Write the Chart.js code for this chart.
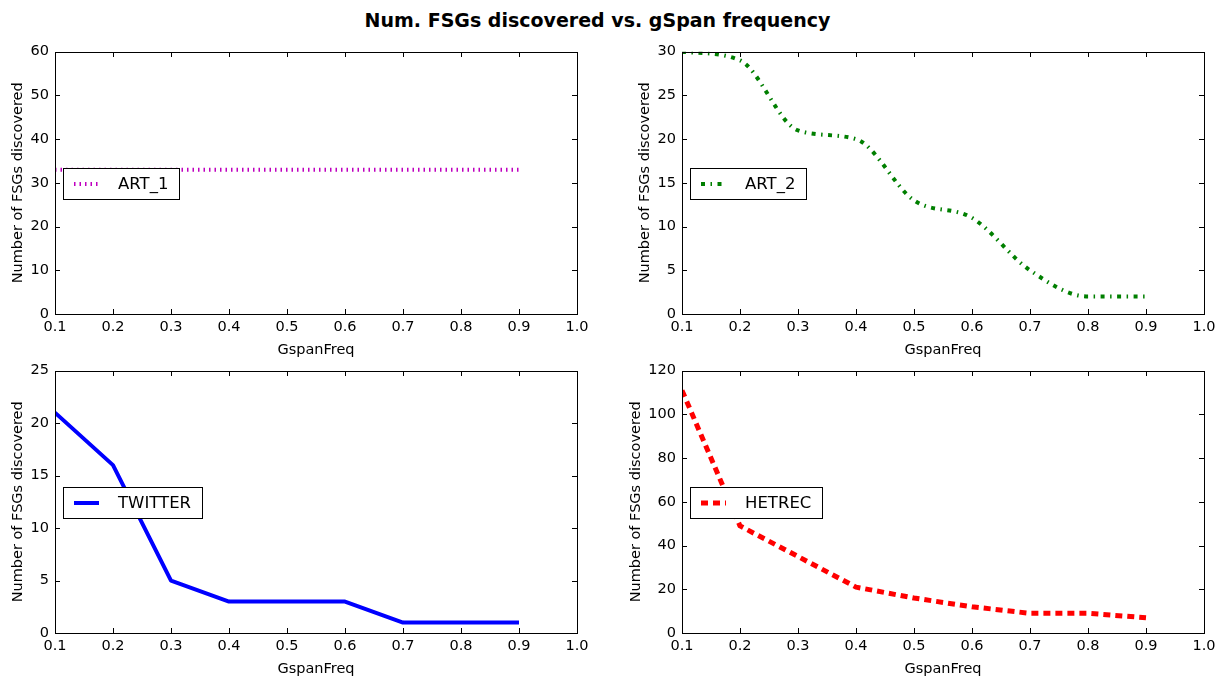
<!DOCTYPE html>
<html><head><meta charset="utf-8">
<script src="https://cdn.jsdelivr.net/npm/chart.js@4.4.1/dist/chart.umd.min.js"></script>
<style>
body{margin:0;background:#fff;width:1226px;height:679px;overflow:hidden;position:relative;font-family:'DejaVu Sans',sans-serif}
#title{position:absolute;top:9px;left:0;width:1195px;text-align:center;font-weight:bold;font-size:19px;color:#000;line-height:22px}
canvas{position:absolute}
</style></head><body>
<div id="title">Num. FSGs discovered vs. gSpan frequency</div>
<canvas id="c1"></canvas><canvas id="c2"></canvas><canvas id="c3"></canvas><canvas id="c4"></canvas>
<script>
const gspanFreq = [0.1, 0.2, 0.3, 0.4, 0.5, 0.6, 0.7, 0.8, 0.9];
const art1 = [33, 33, 33, 33, 33, 33, 33, 33, 33];
const art2 = [30, 29, 21, 20, 13, 11, 5, 2, 2];
const twitter = [21, 16, 5, 3, 3, 3, 1, 1, 1];
const hetrec = [111, 49, 35, 21, 16, 12, 9, 9, 7];
const xTickValues = [0.1, 0.2, 0.3, 0.4, 0.5, 0.6, 0.7, 0.8, 0.9, 1.0];
const xLabel = 'GspanFreq';
const yLabel = 'Number of FSGs discovered';

Chart.defaults.font.family = "'DejaVu Sans', sans-serif";
Chart.defaults.color = '#000';

const mplPlugin = {
  id: 'mpl',
  afterDatasetsDraw(chart, args, opts) {
    const ctx = chart.ctx, a = chart.chartArea;
    const xs = chart.scales.x, ys = chart.scales.y;
    ctx.save();
    ctx.setLineDash([]);
    ctx.strokeStyle = '#000';
    ctx.lineWidth = 1;
    const L = Math.round(a.left), R = Math.round(a.right), T = Math.round(a.top), B = Math.round(a.bottom);
    ctx.strokeRect(L + 0.5, T + 0.5, R - L, B - T);
    const tl = 5;
    ctx.beginPath();
    xs.ticks.forEach(t => {
      const p = Math.round(xs.getPixelForValue(t.value)) + 0.5;
      ctx.moveTo(p, B); ctx.lineTo(p, B - tl);
      ctx.moveTo(p, T); ctx.lineTo(p, T + tl);
    });
    ys.ticks.forEach(t => {
      const p = Math.round(ys.getPixelForValue(t.value)) + 0.5;
      ctx.moveTo(L, p); ctx.lineTo(L + tl, p);
      ctx.moveTo(R, p); ctx.lineTo(R - tl, p);
    });
    ctx.stroke();
    // legend box
    const ds = chart.data.datasets[0];
    ctx.font = '16.5px "DejaVu Sans", sans-serif';
    const tw = ctx.measureText(ds.label).width;
    const bx = L + 8, bh = 31, by = Math.round((T + B) / 2 - 15.5);
    const bw = Math.round(55 + tw + 11);
    ctx.fillStyle = '#fff';
    ctx.fillRect(bx, by, bw, bh);
    ctx.strokeRect(bx + 0.5, by + 0.5, bw, bh);
    const cy = by + bh / 2 + 0.5;
    ctx.beginPath();
    ctx.setLineDash(ds.borderDash || []);
    ctx.lineWidth = ds.borderWidth;
    ctx.strokeStyle = ds.borderColor;
    ctx.lineCap = 'butt';
    ctx.moveTo(bx + 11, cy); ctx.lineTo(bx + 36, cy);
    ctx.stroke();
    ctx.setLineDash([]);
    ctx.fillStyle = '#000';
    ctx.textBaseline = 'middle';
    ctx.textAlign = 'left';
    ctx.fillText(ds.label, bx + 55, cy + 1);
    ctx.restore();
  }
};

function build(id, L, T, values, yMax, yStep, yTitlePad, style) {
  const cv = document.getElementById(id);
  cv.width = 602; cv.height = 327;
  cv.style.left = (L - 55) + 'px';
  cv.style.top = (T - 12) + 'px';
  cv.style.width = '602px'; cv.style.height = '327px';
  return new Chart(cv, {
    type: 'line',
    data: {
      datasets: [Object.assign({
        data: gspanFreq.map((x, i) => ({x: x, y: values[i]})),
        pointRadius: 0, fill: false, clip: 0,
        borderCapStyle: 'butt', borderJoinStyle: 'round'
      }, style)]
    },
    options: {
      responsive: false, animation: false, devicePixelRatio: 1,
      layout: {padding: {top: 12, right: 25, left: 0, bottom: 0}},
      plugins: {legend: {display: false}, tooltip: {enabled: false}},
      scales: {
        x: {
          type: 'linear', min: 0.1, max: 1.0,
          afterBuildTicks: s => { s.ticks = xTickValues.map(v => ({value: v})); },
          afterFit: s => { s.height = 50; },
          grid: {display: false, drawTicks: false}, border: {display: false},
          ticks: {autoSkip: false, maxRotation: 0, minRotation: 0, padding: 5, color: '#000',
                  font: {size: 14.5}, callback: v => Number(v).toFixed(1)},
          title: {display: true, text: xLabel, color: '#000', font: {size: 14.5}, padding: {top: 0, bottom: 5}}
        },
        y: {
          type: 'linear', min: 0, max: yMax,
          afterFit: s => { s.width = 55; },
          grid: {display: false, drawTicks: false}, border: {display: false},
          ticks: {stepSize: yStep, padding: 6, color: '#000', font: {size: 14.5}},
          title: {display: true, text: yLabel, color: '#000', font: {size: 14.5}, padding: {top: yTitlePad, bottom: 0}}
        }
      }
    },
    plugins: [mplPlugin]
  });
}

build('c1', 55, 49, art1, 60, 10, 10, {label: 'ART_1', borderColor: '#bf00bf', borderWidth: 4, borderDash: [1.5, 4]});
build('c2', 682, 49, art2, 30, 5, 10, {label: 'ART_2', borderColor: '#007f00', borderWidth: 4, borderDash: [4, 5.5, 1.5, 5.5], cubicInterpolationMode: 'monotone'});
build('c3', 55, 368, twitter, 25, 5, 10, {label: 'TWITTER', borderColor: '#0000ff', borderWidth: 4});
build('c4', 682, 368, hetrec, 120, 20, 1, {label: 'HETREC', borderColor: '#ff0000', borderWidth: 5, borderDash: [7, 5]});
</script>
</body></html>
